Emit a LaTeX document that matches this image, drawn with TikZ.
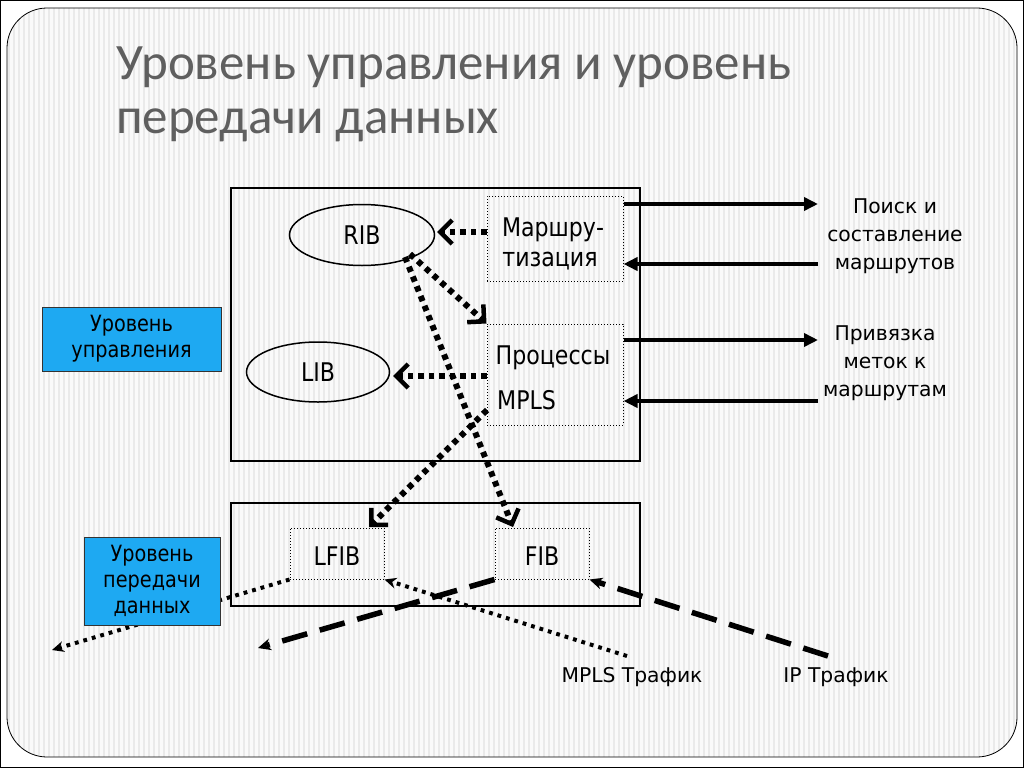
\documentclass[tikz,border=0pt]{standalone}
\usepackage{fontspec}
\setmainfont{Carlito}
\newfontfamily\diafont[FakeStretch=0.86]{DejaVu Sans}
\newfontfamily\labfont{DejaVu Sans}
\usetikzlibrary{arrows.meta,shapes.geometric}
\definecolor{slidebg}{HTML}{FAFAFA}
\definecolor{stripe}{HTML}{EAEAEA}
\definecolor{titlegray}{HTML}{5F5F5F}
\definecolor{levelblue}{HTML}{1EA9F2}
\tikzset{
  x=1pt,y=-1pt,
  txt/.style={font=\diafont\fontsize{25.7}{30}\selectfont,inner sep=0pt,align=center},
  smalltxt/.style={font=\labfont\fontsize{20.3}{28}\selectfont,inner sep=0pt,align=center},
  outerbox/.style={draw,line width=1.5pt},
  dotbox/.style={draw,dotted,line width=1pt},
  ell/.style={draw,ellipse,line width=1.5pt},
  levelbox/.style={draw=black!80,fill=levelblue,line width=1pt,font=\diafont\fontsize{22.4}{26}\selectfont,align=center,inner sep=0pt},
  solidarr/.style={line width=3.8pt,-{Triangle[length=14pt,width=13pt]}},
  thickdot/.style={line width=6pt,dash pattern=on 5.5pt off 5pt,-{Straight Barb[length=12pt,width=24pt,line width=4.5pt]}},
  thindot/.style={line width=4pt,dash pattern=on 3.8pt off 5pt,-{Stealth[length=12pt,width=11pt,line width=0pt]}},
  dasharr/.style={line width=5.5pt,dash pattern=on 26pt off 13pt,-{Stealth[length=13pt,width=12pt,line width=0pt]}},
}
\begin{document}
\begin{tikzpicture}
\useasboundingbox (0,0) rectangle (1024,768);
\fill[white] (0,0) rectangle (1024,768);
\draw[line width=1pt] (0.5,0.5) rectangle (1023.5,767.5);
\begin{scope}
\clip[rounded corners=40pt] (7,8) rectangle (1017,757);
\fill[slidebg] (7,8) rectangle (1017,757);
\foreach \xx in {9,14,...,1016} {\draw[stripe,line width=2pt] (\xx,8) -- (\xx,757);}
\end{scope}
\draw[line width=0.8pt,rounded corners=40pt] (7,8) rectangle (1017,757);
% title
\node[anchor=base west,text=titlegray,font=\fontsize{51}{56}\selectfont,inner sep=0pt] (t1) at (116,79) {Уровень управления и уровень};
\node[anchor=base west,text=titlegray,font=\fontsize{51}{56}\selectfont,inner sep=0pt] (t2) at (116,133) {передачи данных};
% boxes
\node[outerbox,minimum width=409pt,minimum height=273pt,inner sep=0pt] (ctrl) at (435.5,324.5) {};
\node[outerbox,minimum width=409pt,minimum height=103pt,inner sep=0pt] (data) at (435.5,554.5) {};
\node[ell,minimum width=145pt,minimum height=61pt,inner sep=0pt] (rib) at (362,235) {};
\node[txt] at (rib.center) {RIB};
\node[ell,minimum width=143pt,minimum height=60pt,inner sep=0pt] (lib) at (318,372) {};
\node[txt] at (lib.center) {LIB};
\node[dotbox,minimum width=136pt,minimum height=85pt,inner sep=0pt] (route) at (555,238.5) {};
\node[txt,anchor=base] at (553,236) {Маршру-};
\node[txt,anchor=base] at (550,266) {тизация};
\node[dotbox,minimum width=136pt,minimum height=101pt,inner sep=0pt] (proc) at (555,374.5) {};
\node[txt,anchor=base] at (553,364) {Процессы};
\node[txt,anchor=base west] at (497,409) {MPLS};
\node[dotbox,minimum width=94pt,minimum height=51pt,inner sep=0pt] (lfib) at (337,553.5) {};
\node[txt] at ([yshift=-3pt]lfib.center) {LFIB};
\node[dotbox,minimum width=94pt,minimum height=51pt,inner sep=0pt] (fib) at (542,553.5) {};
\node[txt] at ([yshift=-3pt]fib.center) {FIB};
% right labels
\node[smalltxt] (lab1) at (895,236) {Поиск и\\составление\\маршрутов};
\node[smalltxt] (lab2) at (885,363) {Привязка\\меток к\\маршрутам};
\node[smalltxt] (mplst) at (632,677) {MPLS Трафик};
\node[smalltxt] (ipt) at (836,677) {IP Трафик};
% coordinates
\coordinate (e1) at (818,204);
\coordinate (e2) at (818,264);
\coordinate (e3) at (818,340);
\coordinate (e4) at (818,401);
\coordinate (lout) at (52,650);
\coordinate (fout) at (258,648);
\coordinate (ms) at (627,656);
\coordinate (is) at (828,656);
% thin dotted LFIB -> out (behind blue box)
\draw[thindot] (lfib.south west) -- (lout);
% blue boxes
\node[levelbox,minimum width=179pt,minimum height=64pt] (lvl1) at (131.5,339) {Уровень\\управления};
\node[levelbox,minimum width=136pt,minimum height=88pt] (lvl2) at (152,581) {Уровень\\передачи\\данных};
% solid arrows
\draw[solidarr] (route.east |- e1) -- (e1);
\draw[solidarr] (e2) -- (route.east |- e2);
\draw[solidarr] (proc.east |- e3) -- (e3);
\draw[solidarr] (e4) -- (proc.east |- e4);
% thick dotted arrows
\draw[thickdot] (route.west |- 0,232) -- (437,232);
\draw[thickdot] (410,254) -- (proc.north west);
\draw[thickdot] (proc.west |- 0,376) -- (393,376);
\draw[thickdot] (405,257) -- (513,527);
\draw[thickdot] (487,410) -- (369,527);
% thin dotted MPLS traffic
\draw[thindot] (ms) -- (lfib.south east);
% dashed
\draw[dasharr] (fib.south west) -- (fout);
\draw[dasharr] (is) -- (fib.south east);
\end{tikzpicture}
\end{document}
